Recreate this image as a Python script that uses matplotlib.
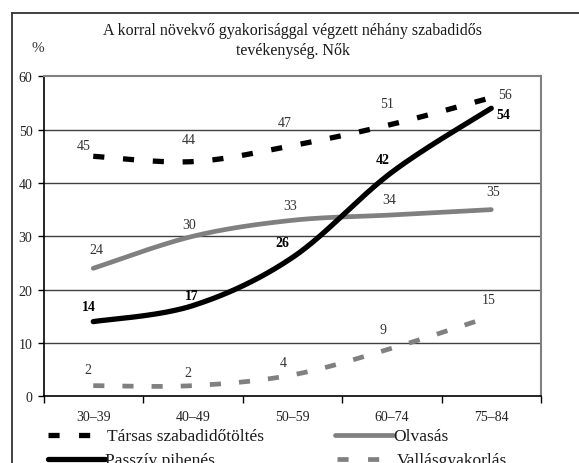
import numpy as np
import matplotlib
matplotlib.use("Agg")
import matplotlib.pyplot as plt
from matplotlib.lines import Line2D

plt.rcParams['font.family'] = ['Liberation Serif', 'DejaVu Serif']
plt.rcParams['lines.scale_dashes'] = False

categories = ["30–39", "40–49", "50–59", "60–74", "75–84"]
tarsas = [45, 44, 47, 51, 56]
olvasas = [24, 30, 33, 34, 35]
passziv = [14, 17, 26, 42, 54]
vallas = [2, 2, 4, 9, 15]
yticks = [0, 10, 20, 30, 40, 50, 60]
title = "A korral növekvő gyakorisággal végzett néhány szabadidős\ntevékenység. Nők"
series_names = ["Társas szabadidőtöltés", "Olvasás", "Passzív pihenés", "Vallásgyakorlás"]

W, H = 579, 464
fig = plt.figure(figsize=(W / 100, H / 100), dpi=100)
ax = fig.add_axes([43.5 / W, 1 - 397.3 / H, (541 - 43.5) / W, (397.3 - 77.3) / H])

SX = 99.5 / 5.333  # screen aspect for smoothing


def smooth(xs, ys, n=40):
    px = np.asarray(xs, float) * SX
    py = np.asarray(ys, float)
    P = np.column_stack([px, py])
    P = np.vstack([P[0], P, P[-1]])
    out = []
    for i in range(1, len(P) - 2):
        p0, p1, p2, p3 = P[i - 1], P[i], P[i + 1], P[i + 2]
        c1 = p1 + (p2 - p0) / 6.0
        c2 = p2 - (p3 - p1) / 6.0
        t = np.linspace(0, 1, n)[:, None]
        b = ((1 - t) ** 3) * p1 + 3 * ((1 - t) ** 2) * t * c1 + 3 * (1 - t) * t ** 2 * c2 + t ** 3 * p2
        if i > 1:
            b = b[1:]
        out.append(b)
    out = np.vstack(out)
    return out[:, 0] / SX, out[:, 1]


x = np.arange(len(categories))
gray = "#808080"
styles = [
    dict(color="black", lw=3.8, dashes=(8.0, 13.5), dash_capstyle="butt"),
    dict(color=gray, lw=3.4, solid_capstyle="round"),
    dict(color="black", lw=3.8, solid_capstyle="round"),
    dict(color=gray, lw=3.4, dashes=(8.0, 13.0), dash_capstyle="butt"),
]
data = [tarsas, olvasas, passziv, vallas]
for vals, st in zip(data, styles):
    sx, sy = smooth(x, vals)
    ln, = ax.plot(sx, sy, zorder=3, **{k: v for k, v in st.items() if k != "dashes"})
    if "dashes" in st:
        ln.set_dashes(st["dashes"])

# data labels: offsets in pixels
lab_off = [
    [(-10, 11), (-4, 22), (-8, 23), (-5, 21), (14, 3)],
    [(3, 19), (-4, 12), (-2, 15), (-3, 15), (1.5, 18)],
    [(-4, 15), (-1, 10), (-10, 15), (-9, 13), (12, -6)],
    [(-5, 16), (-5, 13), (-9.5, 12), (-9, 19), (-3, 17)],
]
lab_col = ["#333333", "#333333", "black", "#333333"]
lab_w = ["normal", "normal", "bold", "normal"]
for vals, offs, c, w in zip(data, lab_off, lab_col, lab_w):
    for xi, v, (dx, dy) in zip(x, vals, offs):
        ax.annotate(str(v), (xi, v), xytext=(dx, dy), textcoords="offset pixels",
                    ha="center", va="center", fontsize=10, color=c, fontweight=w)

ax.set_xlim(-0.5, len(categories) - 0.5)
ax.set_ylim(0, 60)
ax.set_yticks(yticks)
ax.set_yticklabels([str(t) for t in yticks], fontsize=10, color="#222222")
ax.set_xticks(x)
ax.set_xticklabels(categories, fontsize=10, color="#222222")
ax.set_xticks(np.arange(len(categories) + 1) - 0.5, minor=True)
ax.tick_params(axis="x", which="major", length=0, pad=10)
ax.tick_params(axis="x", which="minor", length=5, width=1, direction="out", color="black")
ax.tick_params(axis="y", length=4, width=1, direction="out", color="black", pad=4)
for yv in yticks[1:-1]:
    ax.axhline(yv, color="#404040", lw=1.0, zorder=1)
ax.spines["left"].set_color("black")
ax.spines["bottom"].set_color("black")
ax.spines["left"].set_linewidth(1.2)
ax.spines["bottom"].set_linewidth(1.2)
ax.spines["top"].set_color(gray)
ax.spines["right"].set_color(gray)
ax.spines["top"].set_linewidth(1.5)
ax.spines["right"].set_linewidth(1.5)

def fx(px):
    return px / W

def fy(py):
    return 1 - py / H

# title and unit
fig.text(fx(293), fy(41), title, ha="center", va="center", fontsize=11.5,
         linespacing=1.35, color="#1a1a1a")
fig.text(fx(37.5), fy(48), "%", ha="center", va="center", fontsize=11, color="#333333")

# outer frame
fig.add_artist(Line2D([fx(11.7), fx(11.7)], [fy(14), fy(470)], transform=fig.transFigure,
                      color="#333333", lw=1.3))
fig.add_artist(Line2D([fx(11.7), fx(590)], [fy(14), fy(14)], transform=fig.transFigure,
                      color="#333333", lw=1.3))

# legend
leg = [
    (series_names[0], 48, 90, 436, 107, styles[0]),
    (series_names[1], 335, 393, 436, 393, styles[1]),
    (series_names[2], 48, 105, 460, 105, styles[2]),
    (series_names[3], 337, 380, 460, 397, styles[3]),
]
for name, x0, x1, yy, tx, st in leg:
    kw = {k: v for k, v in st.items() if k != "dashes"}
    l = Line2D([fx(x0), fx(x1)], [fy(yy), fy(yy)], transform=fig.transFigure, **kw)
    if "dashes" in st:
        l.set_dashes((8.0, 14.0))
    fig.add_artist(l)
    fig.text(fx(tx), fy(yy + 1), name, ha="left", va="center", fontsize=12.5, color="#1a1a1a")

fig.savefig("out.png", dpi=100)
